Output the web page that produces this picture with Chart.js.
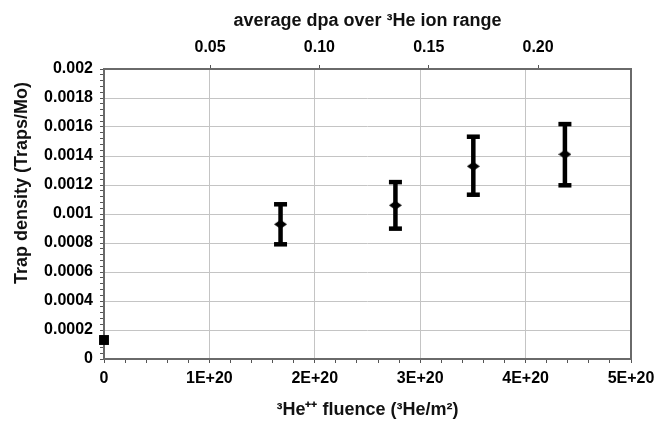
<!DOCTYPE html>
<html>
<head>
<meta charset="utf-8">
<script src="https://cdn.jsdelivr.net/npm/chart.js@4.4.1/dist/chart.umd.min.js"></script>
<style>
  html, body { margin: 0; padding: 0; background: #fff; }
</style>
</head>
<body>
<canvas id="chart" width="671" height="422"></canvas>
<script>
// values
const fluence = [0, 1.675e20, 2.765e20, 3.504e20, 4.373e20];          // 3He/m^2
const trapDensity = [0.000131, 0.000929, 0.00106, 0.001329, 0.001412]; // traps/Mo
const errLow = [null, 0.000791, 0.000899, 0.001133, 0.001198];
const errHigh = [null, 0.001067, 0.00122, 0.001533, 0.00162];

const xMajorTicks = [0, 1e20, 2e20, 3e20, 4e20, 5e20];
const xTickLabels = ['0', '1E+20', '2E+20', '3E+20', '4E+20', '5E+20'];
const yMajorTicks = [0, 0.0002, 0.0004, 0.0006, 0.0008, 0.001, 0.0012, 0.0014, 0.0016, 0.0018, 0.002];
const yTickLabels = ['0', '0.0002', '0.0004', '0.0006', '0.0008', '0.001', '0.0012', '0.0014', '0.0016', '0.0018', '0.002'];
const dpaTicks = [0.05, 0.10, 0.15, 0.20];
const dpaTickLabels = ['0.05', '0.10', '0.15', '0.20'];
const dpaRange = [0.0015, 0.2425]; // top axis spans the same width as the fluence axis

const FONT = '"Liberation Sans", Arial, sans-serif';

// majors with labels, plus 4 unlabeled minor ticks in between
function withMinors(majors, labels, per) {
    const out = [];
    for (let i = 0; i < majors.length; i++) {
        out.push({ value: majors[i], isMajor: true, lbl: labels[i] });
        if (i < majors.length - 1) {
            const step = (majors[i + 1] - majors[i]) / per;
            for (let k = 1; k < per; k++) {
                out.push({ value: majors[i] + step * k, isMajor: false, lbl: '' });
            }
        }
    }
    return out;
}

// flattened diamond marker
const diamond = document.createElement('canvas');
diamond.width = 13;
diamond.height = 9;
const dctx = diamond.getContext('2d');
dctx.fillStyle = '#000';
dctx.beginPath();
dctx.moveTo(0, 4.5);
dctx.lineTo(6.5, 0);
dctx.lineTo(13, 4.5);
dctx.lineTo(6.5, 9);
dctx.closePath();
dctx.fill();

const framePlugin = {
    id: 'framePlugin',
    beforeDatasetsDraw(chart) {
        const { ctx, chartArea: a, scales: { x, y } } = chart;
        ctx.save();
        ctx.strokeStyle = '#6a6a6a';
        ctx.lineWidth = 2;
        ctx.strokeRect(a.left, a.top, a.right - a.left, a.bottom - a.top);

        // error bars
        ctx.fillStyle = '#000';
        fluence.forEach((f, i) => {
            if (errLow[i] == null) return;
            const px = x.getPixelForValue(f);
            const yl = y.getPixelForValue(errLow[i]);
            const yh = y.getPixelForValue(errHigh[i]);
            ctx.fillRect(px - 2.25, yh, 4.5, yl - yh);
            ctx.fillRect(px - 6.5, yh - 2.25, 13, 4.5);
            ctx.fillRect(px - 6.5, yl - 2.25, 13, 4.5);
        });
        ctx.restore();
    },
    afterDraw(chart) {
        const ctx = chart.ctx;
        ctx.save();
        ctx.translate(22, 183);
        ctx.rotate(-Math.PI / 2);
        ctx.font = 'bold 18px ' + FONT;
        ctx.fillStyle = '#111';
        ctx.textAlign = 'center';
        ctx.textBaseline = 'middle';
        ctx.fillText('Trap density (Traps/Mo)', 0, 0);
        ctx.restore();
    }
};

const tickFont = { family: FONT, size: 16, weight: 'bold' };
const titleFont = { family: FONT, size: 18, weight: 'bold' };

new Chart(document.getElementById('chart'), {
    type: 'scatter',
    data: {
        datasets: [{
            data: fluence.map((f, i) => ({ x: f, y: trapDensity[i] })),
            pointStyle: ['rect', diamond, diamond, diamond, diamond],
            pointRadius: [7, 5, 5, 5, 5],
            backgroundColor: '#000',
            borderColor: '#000',
            borderWidth: 0,
            showLine: false,
            clip: false
        }]
    },
    options: {
        responsive: false,
        animation: false,
        layout: { padding: { left: 0, right: 40, top: 0, bottom: 0 } },
        plugins: { legend: { display: false }, tooltip: { enabled: false } },
        scales: {
            x: {
                type: 'linear',
                position: 'bottom',
                min: 0,
                max: 5e20,
                afterBuildTicks: s => { s.ticks = withMinors(xMajorTicks, xTickLabels, 5); },
                afterFit: s => { s.height = 63; },
                border: { display: false },
                grid: {
                    color: c => (c.tick && c.tick.isMajor ? '#c4c4c4' : 'rgba(0,0,0,0)'),
                    tickColor: '#555',
                    tickLength: 4,
                    lineWidth: 1
                },
                ticks: {
                    autoSkip: false,
                    maxRotation: 0,
                    padding: 6,
                    color: '#000',
                    font: tickFont,
                    callback: (v, i, ticks) => ticks[i].lbl
                },
                title: {
                    display: true,
                    text: '³He⁺⁺ fluence (³He/m²)',
                    color: '#111',
                    font: titleFont,
                    padding: { top: 0, bottom: 1 }
                }
            },
            x2: {
                type: 'linear',
                position: 'top',
                min: dpaRange[0],
                max: dpaRange[1],
                afterBuildTicks: s => { s.ticks = dpaTicks.map((v, i) => ({ value: v, lbl: dpaTickLabels[i] })); },
                afterFit: s => { s.height = 69; },
                border: { display: false },
                grid: {
                    drawOnChartArea: false,
                    drawTicks: true,
                    tickColor: '#555',
                    tickLength: 4
                },
                ticks: {
                    autoSkip: false,
                    maxRotation: 0,
                    padding: 8,
                    color: '#000',
                    font: tickFont,
                    callback: (v, i, ticks) => ticks[i].lbl
                },
                title: {
                    display: true,
                    text: 'average dpa over ³He ion range',
                    color: '#111',
                    font: titleFont,
                    padding: { top: 10, bottom: 0 }
                }
            },
            y: {
                type: 'linear',
                min: 0,
                max: 0.002,
                afterBuildTicks: s => { s.ticks = withMinors(yMajorTicks, yTickLabels, 5); },
                afterFit: s => { s.width = 104; },
                border: { display: false },
                grid: {
                    color: c => (c.tick && c.tick.isMajor ? '#c4c4c4' : 'rgba(0,0,0,0)'),
                    tickColor: '#555',
                    tickLength: 4,
                    lineWidth: 1
                },
                ticks: {
                    autoSkip: false,
                    padding: 7,
                    color: '#000',
                    font: tickFont,
                    callback: (v, i, ticks) => ticks[i].lbl
                },
                title: { display: false }
            }
        }
    },
    plugins: [framePlugin]
});
</script>
</body>
</html>
